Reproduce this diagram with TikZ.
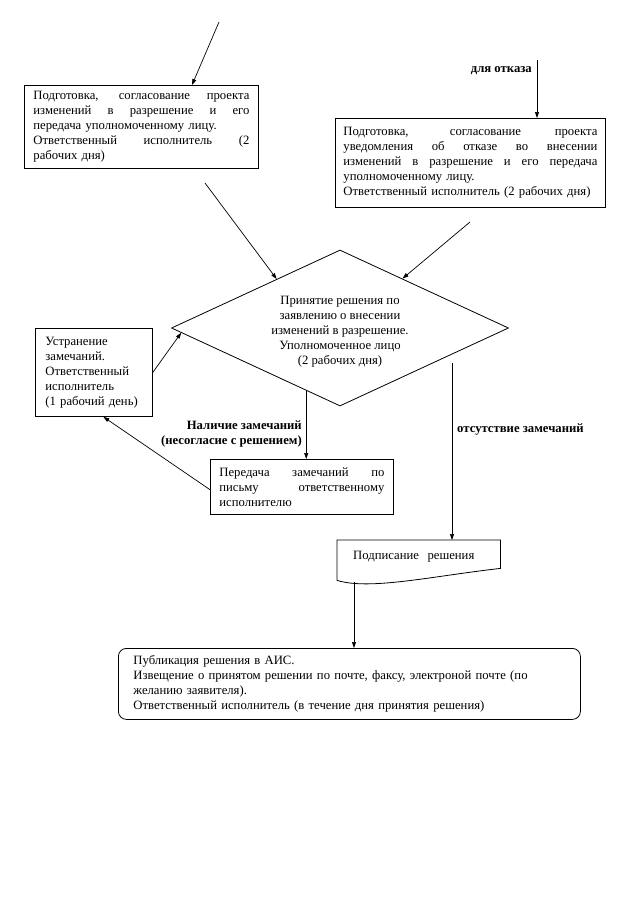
\documentclass[tikz,border=0pt]{standalone}
\usepackage{fontspec}
\setmainfont{Liberation Serif}
\usetikzlibrary{shapes.geometric,arrows.meta,calc}
\newcommand{\jl}[1]{\hbox to \hsize{\spaceskip=0.25em plus 1fil\xspaceskip=0.25em plus 1fil\relax #1}}
\begin{document}
\begin{tikzpicture}[x=1bp,y=-1bp,
  every node/.style={font=\fontsize{12.7bp}{15bp}\selectfont},
  box/.style={draw, line width=0.8bp, rectangle, anchor=north west, align=left, inner ysep=2bp},
  arr/.style={-{Triangle[length=6bp,width=4bp]}, line width=0.7bp},
  lbl/.style={font=\fontsize{12.7bp}{15bp}\selectfont\bfseries, inner sep=0pt}]
\useasboundingbox[fill=white] (0,0) rectangle (640,905);

\node[box, text width=216bp, inner xsep=9bp, minimum height=83bp] (b1) at (24,85)
 {\jl{Подготовка, согласование проекта}
  \jl{изменений в разрешение и его}
  передача уполномоченному лицу.\\
  \jl{Ответственный исполнитель (2}
  рабочих дня)};

\node[box, text width=254bp, inner xsep=8bp, minimum height=89bp] (b2) at (335,118)
 {\jl{Подготовка, согласование проекта}
  \jl{уведомления об отказе во внесении}
  \jl{изменений в разрешение и его передача}
  уполномоченному лицу.\\
  Ответственный исполнитель (2 рабочих дня)};

\node[draw, line width=0.8bp, diamond, aspect=2.16, inner sep=0pt,
      minimum width=337bp, minimum height=156bp] (dia) at (340,328) {};
\node[align=center, inner sep=0pt] (diat) at ($(dia.center)+(0,3.5)$)
 {Принятие решения по\\ заявлению о внесении\\ изменений в разрешение.\\ Уполномоченное лицо\\ (2 рабочих дня)};

\node[box, text width=97bp, inner xsep=10bp, minimum height=88bp] (lb) at (35,328)
 {Устранение\\ замечаний.\\ Ответственный\\ исполнитель\\ (1 рабочий день)};

\node[box, text width=165bp, inner xsep=9bp, minimum height=55bp] (mid) at (210,459)
 {\jl{Передача замечаний по}
  \jl{письму ответственному}
  исполнителю};

\node[rectangle, anchor=north west, text width=131bp, inner xsep=16bp, inner ysep=0pt,
      minimum height=32bp, align=left] (sig) at (337,540) {Подписание\ \ решения};
\draw[line width=0.8bp] ($(sig.south west)+(0,8)$) -- (sig.north west) -- (sig.north east)
  -- ($(sig.south east)+(0,-4)$) .. controls ($(sig.south east)+(-70,4)$) and ($(sig.south west)+(33,18)$) .. ($(sig.south west)+(0,8)$);

\node[box, rounded corners=8bp, text width=432bp, inner xsep=15bp, minimum height=71bp] (pub) at (118,648)
 {Публикация решения в АИС.\\
  Извещение о принятом решении по почте, факсу, электроной почте (по\\
  желанию заявителя).\\
  Ответственный исполнитель (в течение дня принятия решения)};

% labels
\node[lbl, anchor=east] (lotk) at (532,71) {для отказа};
\node[lbl, anchor=east, align=right] (lnal) at (302,434) {Наличие замечаний\\ (несогласие с решением)};
\node[lbl, anchor=west] (lots) at (457,429) {отсутствие замечаний};

% free ends
\coordinate (t1) at (219,22);
\coordinate (t2) at (537,60);
\coordinate (s1) at (205,183);
\coordinate (s2) at (470,222);
\coordinate (s3) at (452,363);
\coordinate (s4) at ($(sig.south west)+(17,10)$);

% connectors
\draw[arr] (t1) -- ($(b1.north west)+(168,0)$);
\draw[arr] (t2) -- (t2 |- b2.north);
\draw[arr] (s1) -- ($(dia.west)!0.625!(dia.north)$);
\draw[arr] (s2) -- ($(dia.north)!0.37!(dia.east)$);
\draw[arr] (lb.east) -- ($(dia.west)!0.06!(dia.south)$);
\coordinate (d1) at ($(dia.west)!0.8!(dia.south)$);
\draw[arr] (d1) -- (d1 |- mid.north);
\draw[arr] ($(mid.south west)!0.45!(mid.north west)$) -- ($(lb.south west)!0.58!(lb.south east)$);
\draw[arr] (s3) -- (s3 |- sig.north);
\draw[arr] (s4) -- (s4 |- pub.north);
\end{tikzpicture}
\end{document}
